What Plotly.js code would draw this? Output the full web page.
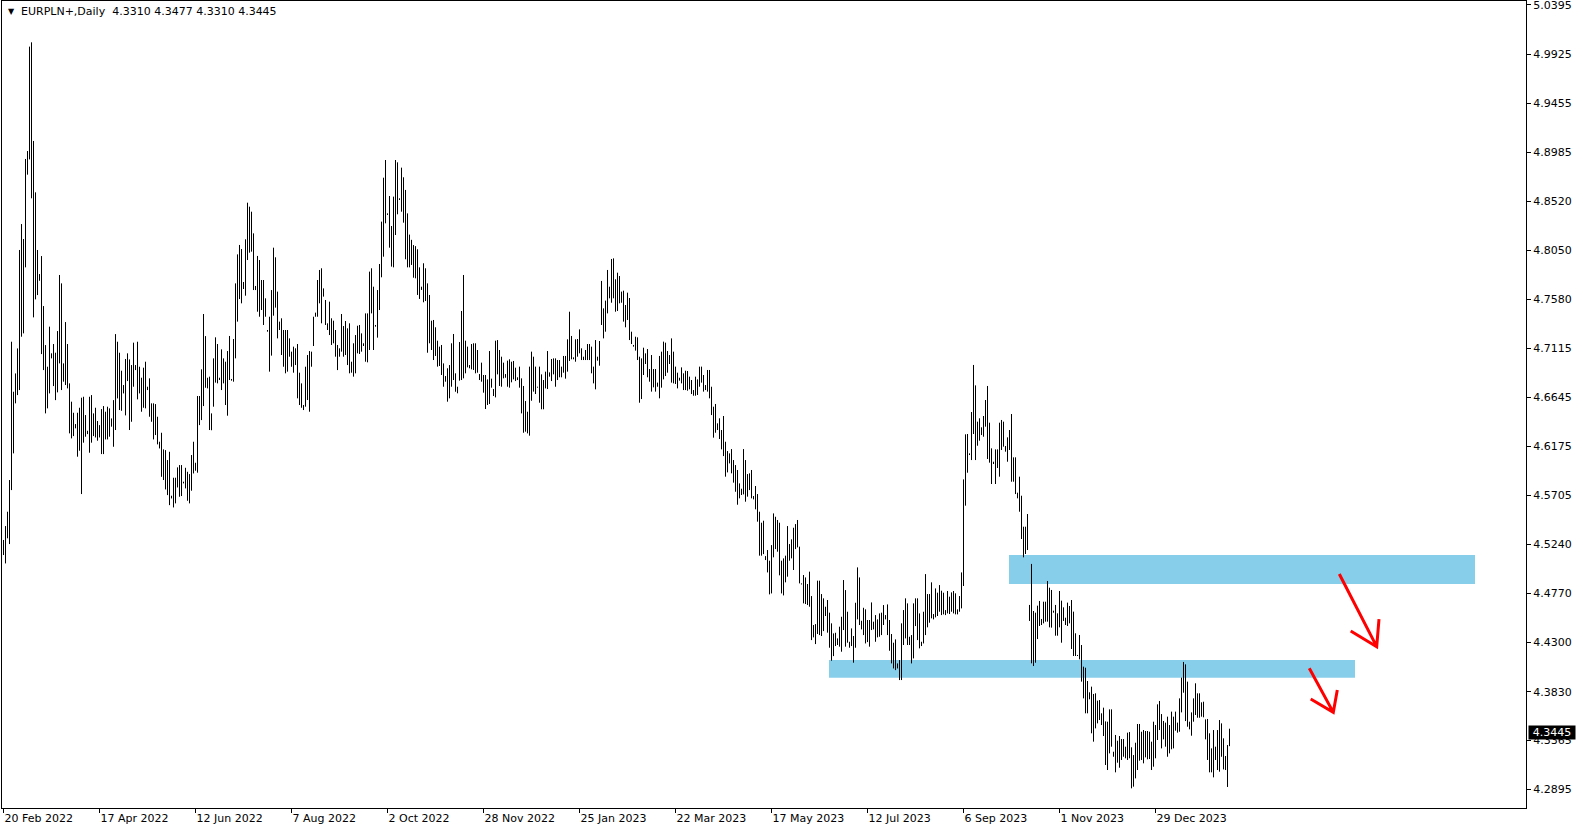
<!DOCTYPE html>
<html>
<head>
<meta charset="utf-8">
<script src="https://cdn.plot.ly/plotly-3.0.1.min.js"></script>
<style>html,body{margin:0;padding:0;background:#fff;}#chart{width:1583px;height:832px;}</style>
</head>
<body>
<div id="chart"></div>
<script>
// Daily bar highs (bar index 0 = 20 Feb 2022), EURPLN+
const highs = [
4.5281,4.5414,4.5551,4.5854,4.7176,4.6698,4.6873,4.7112,4.8053,4.8301,4.8158,4.8923,
4.8999,4.9997,5.0038,4.9095,4.8604,4.8053,4.7823,4.7995,4.7517,4.7144,4.6937,4.7320,
4.7065,4.7154,4.7071,4.7278,4.7814,4.7734,4.6969,4.7364,4.7154,4.6778,4.6603,4.6497,
4.6389,4.6497,4.6545,4.6641,4.6650,4.6475,4.6325,4.6650,4.6666,4.6491,4.6545,4.6418,
4.6379,4.6532,4.6561,4.6507,4.6555,4.6539,4.6443,4.6618,4.7249,4.7176,4.7071,4.6899,
4.6762,4.7011,4.7065,4.7007,4.6953,4.7167,4.6953,4.7176,4.6937,4.6832,4.6928,4.6985,
4.6746,4.6826,4.6587,4.6587,4.6580,4.6459,4.6220,4.6306,4.6147,4.6140,4.6045,4.6124,
4.5704,4.5876,4.5876,4.5975,4.5997,4.5997,4.5838,4.5971,4.5933,4.5911,4.6093,4.6220,
4.6019,4.6657,4.6657,4.6912,4.7441,4.7230,4.6832,4.6842,4.6491,4.7017,4.7218,4.7154,
4.6832,4.7103,4.7017,4.6985,4.7087,4.7231,4.6820,4.7202,4.7734,4.8011,4.8101,4.8062,
4.7747,4.8155,4.8505,4.8467,4.8419,4.8212,4.7709,4.7996,4.7957,4.7766,4.7766,4.7591,
4.7288,4.7415,4.7670,4.8075,4.7983,4.7655,4.7368,4.7400,4.7288,4.7288,4.7288,4.7208,
4.7081,4.7129,4.7113,4.7154,4.6880,4.6778,4.6571,4.6937,4.7049,4.7087,4.7081,4.7415,
4.7454,4.7766,4.7862,4.7878,4.7686,4.7575,4.7352,4.7559,4.7400,4.7377,4.7288,4.7145,
4.7113,4.7441,4.7326,4.7374,4.7304,4.7352,4.6985,4.7161,4.7240,4.7329,4.7336,4.7256,
4.7161,4.7447,4.7447,4.7846,4.7878,4.7702,4.7336,4.7670,4.7919,4.8324,4.8744,4.8913,
4.8403,4.8569,4.8282,4.8563,4.8913,4.8891,4.8547,4.8840,4.8748,4.8627,4.8403,4.8200,
4.8150,4.8100,4.8090,4.8060,4.7887,4.7702,4.7926,4.7878,4.7734,4.7623,4.7377,4.7384,
4.7314,4.7186,4.7129,4.7145,4.6969,4.6848,4.6922,4.6953,4.7161,4.7250,4.6874,4.6746,
4.7173,4.7470,4.7814,4.7186,4.7129,4.6953,4.7154,4.7161,4.7161,4.7097,4.6867,4.6976,
4.6858,4.6858,4.6816,4.7087,4.6823,4.6724,4.7186,4.7192,4.7097,4.7033,4.6976,4.6867,
4.6995,4.7008,4.6985,4.6992,4.6928,4.6836,4.6938,4.6826,4.6753,4.6609,4.6507,4.6938,
4.7081,4.7033,4.6938,4.6746,4.6938,4.6864,4.6810,4.6890,4.7087,4.6883,4.7011,4.7017,
4.7017,4.7001,4.7001,4.6938,4.7040,4.7040,4.7199,4.7463,4.7231,4.7027,4.7199,4.7202,
4.7294,4.7113,4.7033,4.7097,4.7154,4.7154,4.7129,4.6938,4.7192,4.7033,4.7183,4.7757,
4.7495,4.7569,4.7862,4.7702,4.7967,4.7973,4.7773,4.7836,4.7804,4.7655,4.7664,4.7527,
4.7645,4.7594,4.7272,4.7145,4.7224,4.7218,4.7033,4.7017,4.7119,4.7065,4.7106,4.6915,
4.7049,4.6915,4.6915,4.6785,4.7040,4.7081,4.7177,4.7167,4.7087,4.7049,4.7208,4.7081,
4.6938,4.6880,4.6832,4.6931,4.6874,4.6899,4.6896,4.6842,4.6810,4.6714,4.6842,4.6816,
4.6938,4.6938,4.6858,4.6762,4.6906,4.6906,4.6746,4.6555,4.6581,4.6396,4.6444,4.6332,
4.6466,4.6220,4.6131,4.6109,4.6150,4.6045,4.5997,4.5950,4.5822,4.5771,4.6150,4.6045,
4.5911,4.5918,4.5950,4.5701,4.5797,4.5720,4.5551,4.5446,4.5465,4.5127,4.5185,4.5083,
4.5232,4.5535,4.5503,4.5472,4.5446,4.5083,4.5105,4.5131,4.5414,4.5242,4.5287,4.5398,
4.5433,4.5472,4.5217,4.4866,4.4946,4.4923,4.4860,4.4978,4.4745,4.4468,4.4477,4.4892,
4.4892,4.4764,4.4723,4.4643,4.4707,4.4586,4.4484,4.4388,4.4394,4.4340,4.4452,4.4547,
4.4898,4.4802,4.4595,4.4308,4.4436,4.4363,4.4681,4.5019,4.4923,4.4509,4.4633,4.4618,
4.4516,4.4516,4.4684,4.4500,4.4563,4.4522,4.4579,4.4586,4.4659,4.4563,4.4665,4.4516,
4.4382,4.4299,4.4331,4.4101,4.4133,4.4484,4.4611,4.4723,4.4675,4.4356,4.4372,4.4675,
4.4723,4.4723,4.4579,4.4308,4.4595,4.4955,4.4764,4.4764,4.4876,4.4573,4.4818,4.4777,
4.4850,4.4796,4.4777,4.4611,4.4793,4.4739,4.4780,4.4793,4.4771,4.4618,4.4745,4.4971,
4.5860,4.6291,4.6294,4.6109,4.6504,4.6954,4.6759,4.6412,4.6444,4.6358,4.6466,4.6619,
4.6753,4.6402,4.6157,4.6029,4.6147,4.6147,4.6402,4.6428,4.6412,4.6179,4.6262,4.6332,
4.6485,4.6071,4.6071,4.5733,4.5886,4.5704,4.5408,4.5408,4.5529,4.4660,4.5052,4.4602,
4.4586,4.4653,4.4698,4.4526,4.4691,4.4691,4.4889,4.4825,4.4803,4.4605,4.4660,4.4580,
4.4793,4.4701,4.4637,4.4538,4.4682,4.4650,4.4707,4.4596,4.4389,4.4182,4.4373,4.4277,
4.4070,4.4060,4.3933,4.3825,4.3879,4.3809,4.3815,4.3745,4.3751,4.3624,4.3678,4.3547,
4.3544,4.3662,4.3662,4.3257,4.3417,4.3362,4.3407,4.3378,4.3378,4.3305,4.3439,4.3445,
4.3299,4.3225,4.3343,4.3522,4.3522,4.3448,4.3464,4.3455,4.3455,4.3448,4.3353,4.3544,
4.3512,4.3710,4.3742,4.3617,4.3551,4.3535,4.3592,4.3512,4.3640,4.3592,4.3640,4.3535,
4.3767,4.3965,4.4115,4.4092,4.3927,4.3544,4.3633,4.3767,4.3911,4.3815,4.3815,4.3729,
4.3735,4.3566,4.3570,4.3433,4.3289,4.3464,4.3305,4.3464,4.3560,4.3528,4.3385,4.3216,
4.3321,4.3477
];
const lows = [
4.5137,4.5057,4.5297,4.5242,4.5758,4.6109,4.6587,4.6666,4.6714,4.7224,4.7256,4.7887,
4.8773,4.8919,4.8547,4.7409,4.7581,4.7622,4.7759,4.7058,4.6905,4.6491,4.6539,4.6682,
4.7017,4.6752,4.6618,4.6692,4.6969,4.6714,4.6794,4.6762,4.6730,4.6300,4.6252,4.6274,
4.6348,4.6077,4.6134,4.5720,4.6211,4.6268,4.6293,4.6115,4.6211,4.6274,4.6261,4.6230,
4.6261,4.6102,4.6102,4.6242,4.6242,4.6268,4.6364,4.6172,4.6332,4.6634,4.6523,4.6516,
4.6682,4.6472,4.6800,4.6332,4.6411,4.6746,4.6905,4.6625,4.6682,4.6507,4.6545,4.6539,
4.6714,4.6459,4.6411,4.6242,4.6284,4.6195,4.6156,4.5885,4.5854,4.5764,4.5710,4.5614,
4.5678,4.5592,4.5631,4.5783,4.5694,4.5701,4.5822,4.5774,4.5656,4.5631,4.5752,4.5917,
4.5943,4.5924,4.6379,4.6427,4.6561,4.6736,4.6730,4.6332,4.6330,4.6555,4.6785,4.6778,
4.6810,4.6714,4.6778,4.6571,4.6469,4.6810,4.6804,4.6794,4.7017,4.7368,4.7584,4.7543,
4.7680,4.7616,4.7957,4.8027,4.8037,4.7670,4.7670,4.7463,4.7415,4.7479,4.7336,4.7415,
4.7272,4.6890,4.7043,4.7425,4.7502,4.7208,4.7288,4.7049,4.6937,4.6874,4.6890,4.7033,
4.6937,4.6880,4.6953,4.6635,4.6571,4.6545,4.6523,4.6555,4.6619,4.6507,4.6937,4.7135,
4.7415,4.7415,4.7543,4.7352,4.7607,4.7336,4.7288,4.7240,4.7145,4.7161,4.7033,4.6905,
4.7033,4.7081,4.7033,4.7049,4.6953,4.6874,4.6880,4.6842,4.6874,4.7065,4.7059,4.7081,
4.7135,4.6985,4.6979,4.7097,4.7447,4.7097,4.7320,4.7215,4.7479,4.7792,4.7989,4.8308,
4.8388,4.8075,4.7894,4.7887,4.8196,4.8394,4.8531,4.8419,4.8314,4.7964,4.7887,4.7887,
4.7910,4.7788,4.7782,4.7623,4.7585,4.7671,4.7553,4.7565,4.7071,4.7161,4.7097,4.7001,
4.7040,4.6938,4.6944,4.6858,4.6746,4.6794,4.6603,4.6635,4.6746,4.6810,4.6698,4.6683,
4.6804,4.6810,4.6826,4.6874,4.6931,4.6922,4.6912,4.6906,4.6874,4.6880,4.6810,4.6794,
4.6689,4.6533,4.6571,4.6581,4.6737,4.6657,4.6644,4.6864,4.6753,4.6746,4.6826,4.6832,
4.6746,4.6737,4.6788,4.6816,4.6800,4.6810,4.6737,4.6491,4.6306,4.6316,4.6300,4.6278,
4.6612,4.6699,4.6676,4.6737,4.6593,4.6530,4.6530,4.6730,4.6724,4.6842,4.6800,4.6864,
4.6746,4.6810,4.6836,4.6836,4.6880,4.6823,4.6890,4.6992,4.7008,4.7008,4.6985,4.7033,
4.7065,4.7001,4.7001,4.7001,4.7001,4.7001,4.6874,4.6778,4.6721,4.6995,4.6947,4.7336,
4.7208,4.7272,4.7447,4.7591,4.7549,4.7591,4.7463,4.7470,4.7543,4.7549,4.7368,4.7314,
4.7384,4.7192,4.7154,4.7129,4.7091,4.7001,4.6593,4.6628,4.6858,4.6963,4.6836,4.6794,
4.6699,4.6740,4.6699,4.6746,4.6635,4.6737,4.6816,4.6848,4.6880,4.6963,4.6785,4.6778,
4.6772,4.6730,4.6804,4.6778,4.6714,4.6714,4.6708,4.6721,4.6676,4.6660,4.6660,4.6667,
4.6746,4.6785,4.6699,4.6714,4.6699,4.6635,4.6475,4.6259,4.6306,4.6332,4.6246,4.6147,
4.6083,4.5886,4.5927,4.6013,4.5918,4.5829,4.5742,4.5618,4.5679,4.5711,4.5717,4.5647,
4.5695,4.5758,4.5679,4.5669,4.5574,4.5456,4.5131,4.5131,4.5146,4.5089,4.4971,4.4761,
4.4770,4.5115,4.5194,4.5169,4.4943,4.4770,4.4751,4.4876,4.4930,4.5083,4.5105,4.4994,
4.5194,4.5210,4.4866,4.4856,4.4675,4.4669,4.4659,4.4643,4.4324,4.4350,4.4286,4.4382,
4.4372,4.4363,4.4410,4.4554,4.4395,4.4251,4.4127,4.4171,4.4267,4.4277,4.4261,4.4213,
4.4420,4.4261,4.4299,4.4251,4.4267,4.4108,4.4251,4.4522,4.4468,4.4426,4.4372,4.4292,
4.4305,4.4261,4.4420,4.4426,4.4308,4.4350,4.4356,4.4372,4.4468,4.4522,4.4372,4.4222,
4.4101,4.4053,4.4037,4.4053,4.3942,4.3942,4.4277,4.4340,4.4277,4.4277,4.4101,4.4149,
4.4458,4.4324,4.4245,4.4267,4.4292,4.4372,4.4446,4.4490,4.4532,4.4522,4.4541,4.4554,
4.4595,4.4563,4.4570,4.4563,4.4579,4.4573,4.4595,4.4579,4.4570,4.4570,4.4595,4.4627,
4.4841,4.5609,4.5924,4.6093,4.6045,4.6294,4.6045,4.6182,4.6230,4.6284,4.6268,4.6364,
4.6055,4.6020,4.5816,4.6007,4.5816,4.5969,4.5886,4.6141,4.6173,4.6125,4.6029,4.6141,
4.5838,4.5838,4.5720,4.5679,4.5551,4.5290,4.5115,4.5147,4.5185,4.4507,4.4102,4.4076,
4.4108,4.4334,4.4459,4.4468,4.4484,4.4500,4.4500,4.4446,4.4443,4.4586,4.4366,4.4366,
4.4446,4.4299,4.4507,4.4468,4.4459,4.4484,4.4239,4.4172,4.4172,4.4172,4.4140,4.3927,
4.3767,4.3624,4.3624,4.3758,4.3433,4.3353,4.3480,4.3528,4.3560,4.3512,4.3407,4.3130,
4.3082,4.3241,4.3305,4.3209,4.3060,4.3152,4.3104,4.3178,4.3209,4.3194,4.3178,4.3194,
4.2907,4.2923,4.3002,4.3082,4.3171,4.3178,4.3146,4.3203,4.3184,4.3187,4.3082,4.3114,
4.3194,4.3369,4.3464,4.3289,4.3375,4.3305,4.3209,4.3241,4.3280,4.3289,4.3458,4.3439,
4.3448,4.3633,4.3821,4.3550,4.3496,4.3471,4.3410,4.3544,4.3608,4.3582,4.3582,4.3592,
4.3586,4.3375,4.3178,4.3060,4.3060,4.3012,4.3178,4.3082,4.3066,4.3209,4.3088,4.3082,
4.2920,4.3310
];
const dateLabels = ["20 Feb 2022","17 Apr 2022","12 Jun 2022","7 Aug 2022","2 Oct 2022","28 Nov 2022","25 Jan 2023","22 Mar 2023","17 May 2023","12 Jul 2023","6 Sep 2023","1 Nov 2023","29 Dec 2023"];
const dateLabelBars = [0,48,96,144,192,240,288,336,384,432,480,528,576];
const priceTicks = [5.0395,4.9925,4.9455,4.8985,4.8520,4.8050,4.7580,4.7115,4.6645,4.6175,4.5705,4.5240,4.4770,4.4300,4.3830,4.3365,4.2895];
const lastBar = {open:4.3310, high:4.3477, low:4.3310, close:4.3445};

const xs = [], ys = [];
for (let i = 0; i < highs.length; i++) {
  xs.push(i, i, null);
  ys.push(lows[i], highs[i], null);
}

const font = {family: "DejaVu Sans", size: 11, color: "#000"};

const trace = {
  type: "scatter", mode: "lines", x: xs, y: ys,
  line: {color: "#000", width: 1}, connectgaps: false, hoverinfo: "skip", showlegend: false
};

const layout = {
  width: 1583, height: 832,
  margin: {l: 2, r: 57, t: 1, b: 24, pad: 0},
  paper_bgcolor: "#fff", plot_bgcolor: "#fff",
  font: font,
  showlegend: false,
  xaxis: {
    type: "linear", range: [-0.75, 761.25], fixedrange: true,
    tickmode: "array", tickvals: dateLabelBars, ticktext: dateLabels,
    ticks: "outside", ticklen: 4, tickwidth: 1, tickcolor: "#000",
    ticklabelposition: "outside right",
    showline: true, mirror: true, linecolor: "#000", linewidth: 1,
    showgrid: false, zeroline: false, tickfont: font
  },
  yaxis: {
    side: "right", range: [4.2719, 5.0433], fixedrange: true,
    tickmode: "array", tickvals: priceTicks, ticktext: priceTicks.map(v => v.toFixed(4)),
    ticks: "outside", ticklen: 4, tickwidth: 1, tickcolor: "#000",
    ticklabeloverflow: "allow",
    showline: true, mirror: true, linecolor: "#000", linewidth: 1,
    showgrid: false, zeroline: false, tickfont: font
  },
  shapes: [
    {type: "rect", xref: "x", yref: "y", x0: 502.75, x1: 735.75, y0: 4.4860, y1: 4.5137,
     fillcolor: "#87CEEB", line: {width: 0}, layer: "below"},
    {type: "rect", xref: "x", yref: "y", x0: 412.75, x1: 675.75, y0: 4.3964, y1: 4.4133,
     fillcolor: "#87CEEB", line: {width: 0}, layer: "below"},
    {type: "path", xref: "x", yref: "y",
     path: "M 667.9,4.4956 L 686.6,4.4261 M 673.6,4.4411 L 686.6,4.4261 L 687.75,4.4525",
     line: {color: "#FF0000", width: 3}, layer: "above"},
    {type: "path", xref: "x", yref: "y",
     path: "M 652.9,4.4054 L 664.9,4.3633 M 653.6,4.3761 L 664.9,4.3633 L 666.9,4.3847",
     line: {color: "#FF0000", width: 3}, layer: "above"}
  ],
  annotations: [
    {xref: "paper", yref: "paper", x: 0.0026, y: 0.9864, xanchor: "left", yanchor: "middle",
     text: "▼", showarrow: false, font: {family: "DejaVu Sans", size: 8, color: "#000"}},
    {xref: "paper", yref: "paper", x: 0.0112, y: 0.9864, xanchor: "left", yanchor: "middle",
     text: "EURPLN+,Daily\u00a0\u00a0" + [lastBar.open, lastBar.high, lastBar.low, lastBar.close].map(v => v.toFixed(4)).join(" "),
     showarrow: false, font: font},
    {xref: "paper", yref: "y", x: 1, xshift: 2, y: lastBar.close, xanchor: "left", yanchor: "middle",
     text: lastBar.close.toFixed(4), showarrow: false, bgcolor: "#000", borderpad: 1,
     width: 44, height: 11, align: "center",
     font: {family: "DejaVu Sans", size: 11, color: "#fff"}}
  ]
};

Plotly.newPlot("chart", [trace], layout, {staticPlot: true, displayModeBar: false});
</script>
</body>
</html>
